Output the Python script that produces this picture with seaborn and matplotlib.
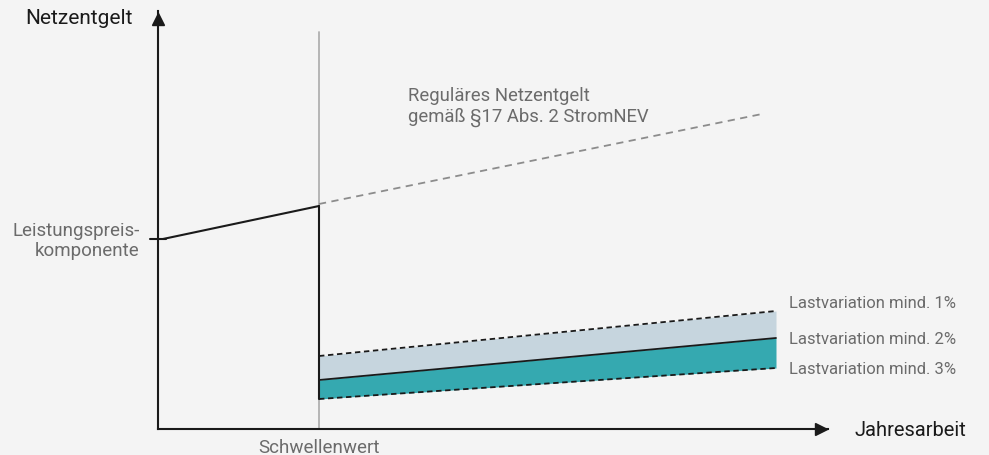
import numpy as np
import pandas as pd
import matplotlib.pyplot as plt
import seaborn as sns

# schematic values (x = Jahresarbeit, y = Netzentgelt), arbitrary units
schwelle = 161
lp_x = [5, 161]
lp_y = [190, 223]
regulaer_x = [161, 604]
regulaer_y = [225, 315]
band_x = [161, 618]
lv1_y = [73, 118]
lv2_y = [49, 91]
lv3_y = [30, 61]
band_labels = ["Lastvariation mind. 1%", "Lastvariation mind. 2%", "Lastvariation mind. 3%"]

sns.set_style("white")
plt.rcParams["font.family"] = ["Roboto", "DejaVu Sans"]

bg = "#f4f4f4"
grey_txt = "#6b6b6b"

fig = plt.figure(figsize=(9.89, 4.56), dpi=100, facecolor=bg)
ax = fig.add_axes([158 / 989, 26 / 456, 670 / 989, 418 / 456])
ax.set_facecolor(bg)
ax.set_xlim(0, 670)
ax.set_ylim(0, 418)

# bands
ax.fill_between(band_x, lv2_y, lv1_y, color="#c6d5de", lw=0)
ax.fill_between(band_x, lv3_y, lv2_y, color="#35a9b0", lw=0)

band_df = pd.DataFrame({"x": band_x * 3,
                        "y": lv1_y + lv2_y + lv3_y,
                        "serie": sum([[b] * 2 for b in band_labels], [])})
sns.lineplot(data=band_df, x="x", y="y", hue="serie", style="serie",
             palette=["#1a1a1a"] * 3, dashes=[(3, 2), "", (3, 2)],
             lw=1.3, legend=False, ax=ax)

# threshold line
ax.plot([schwelle, schwelle], [0, 397], color="#b0b0b0", lw=1.3, zorder=0)
ax.plot([schwelle, schwelle], [lv3_y[0], lp_y[1]], color="#1a1a1a", lw=1.5)

# Leistungspreis line + regular dashed line
sns.lineplot(x=lp_x, y=lp_y, color="#1a1a1a", lw=1.5, ax=ax)
sns.lineplot(x=regulaer_x, y=regulaer_y, color="#8c8c8c", lw=1.3, ax=ax,
             linestyle=(0, (4, 3)))
ax.plot([-8, 8], [lp_y[0], lp_y[0]], color="#1a1a1a", lw=1.5, clip_on=False)

# axes with arrows
sns.despine(ax=ax)
for s in ["left", "bottom"]:
    ax.spines[s].set_color("#1a1a1a")
    ax.spines[s].set_linewidth(1.5)
ax.plot(663, 0, marker=">", ms=9, color="#1a1a1a", clip_on=False)
ax.plot(0, 410, marker="^", ms=9, color="#1a1a1a", clip_on=False)
ax.set_xticks([])
ax.set_yticks([])
ax.set_xlabel("")
ax.set_ylabel("")

# labels
ax.text(-25, 412, "Netzentgelt", ha="right", va="center", fontsize=15, color="#1a1a1a")
ax.text(697, -1, "Jahresarbeit", ha="left", va="center", fontsize=14.5, color="#1a1a1a")
ax.text(schwelle, -18, "Schwellenwert", ha="center", va="center", fontsize=13.5, color=grey_txt)
ax.text(-18, 189, "Leistungspreis-\nkomponente", ha="right", va="center",
        fontsize=13.5, color=grey_txt, linespacing=1.15)
ax.text(250, 323, "Reguläres Netzentgelt\ngemäß §17 Abs. 2 StromNEV", ha="left", va="center",
        fontsize=13.3, color=grey_txt, linespacing=1.15)
for lab, yy in zip(band_labels, [126, 91, 60]):
    ax.text(631, yy, lab, ha="left", va="center", fontsize=12, color=grey_txt)

fig.savefig("out.png", dpi=100, facecolor=bg)
